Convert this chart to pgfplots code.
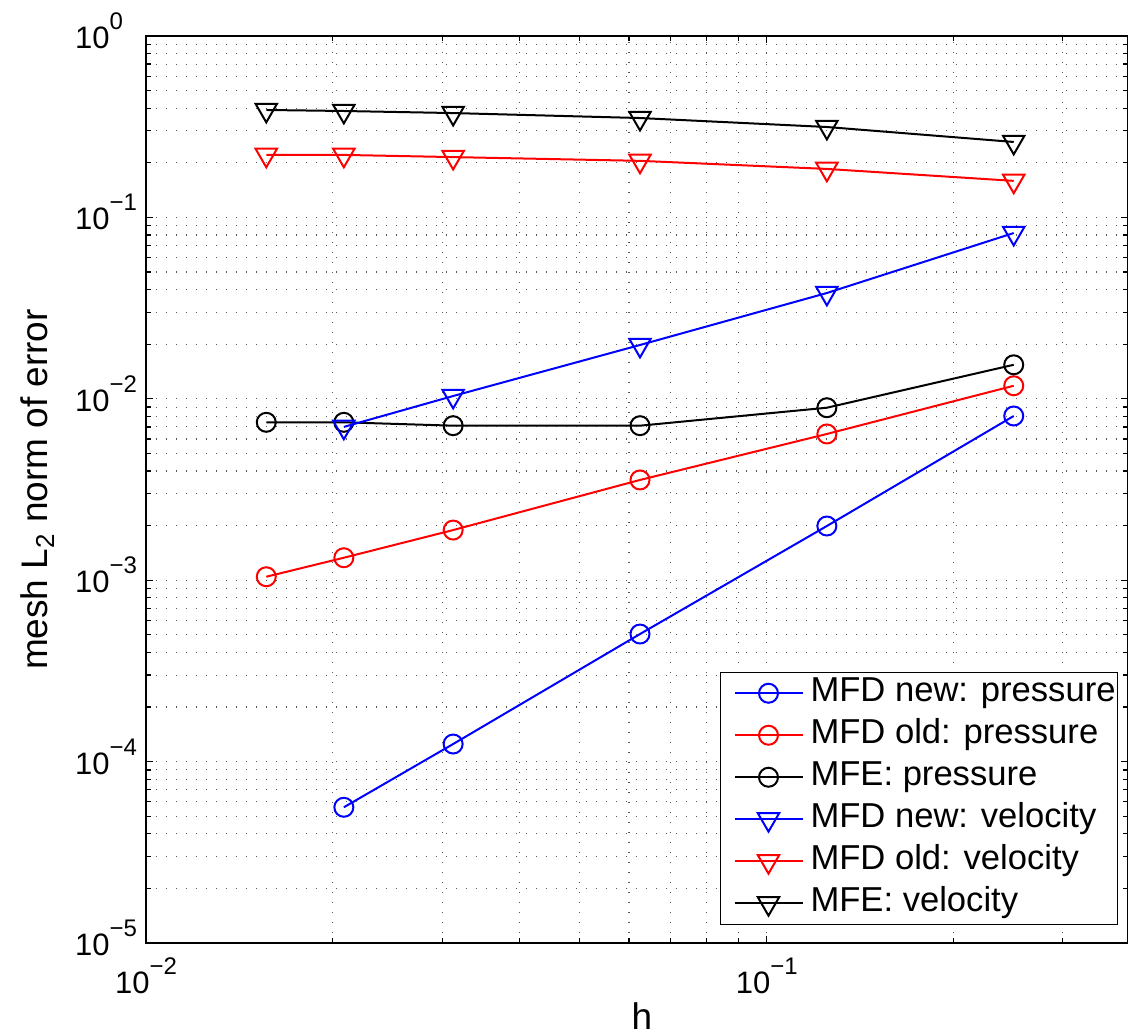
\documentclass[border=0pt]{standalone}
\usepackage{fontspec}
\setmainfont{Liberation Sans}
\usepackage{pgfplots}
\pgfplotsset{compat=1.18}
\newcommand\xl[1]{10\raisebox{9.5pt}{\fontsize{12}{12}\selectfont #1}}
\newcommand\yl[1]{10\rlap{\raisebox{9.5pt}{\fontsize{12}{12}\selectfont #1}}}
\begin{document}
\begin{tikzpicture}
\begin{axis}[
 xmode=log, ymode=log,
 scale only axis, width=491pt, height=453.5pt,
 xmin=0.01, xmax=0.382, ymin=1e-5, ymax=1,
 xtick={0.01,0.1}, xticklabels={\xl{−2},\xl{−1}},
 ytick={1e-5,1e-4,1e-3,1e-2,1e-1,1},
 yticklabels={\yl{−5},\yl{−4},\yl{−3},\yl{−2},\yl{−1},\yl{0}},
 minor xtick={0.02,0.03,0.04,0.05,0.06,0.07,0.08,0.09,0.2,0.3},
 minor ytick={2e-5,3e-5,4e-5,5e-5,6e-5,7e-5,8e-5,9e-5,
   2e-4,3e-4,4e-4,5e-4,6e-4,7e-4,8e-4,9e-4,
   2e-3,3e-3,4e-3,5e-3,6e-3,7e-3,8e-3,9e-3,
   2e-2,3e-2,4e-2,5e-2,6e-2,7e-2,8e-2,9e-2,
   0.2,0.3,0.4,0.5,0.6,0.7,0.8,0.9},
 grid=both,
 major grid style={line width=0.55pt, black!65, dash pattern=on 0.55pt off 4.45pt},
 minor grid style={line width=0.55pt, black!65, dash pattern=on 0.55pt off 4.45pt},
 tick style={black, line width=0.6pt},
 major tick length=3.5pt, minor tick length=2.5pt,
 axis line style={line width=0.8pt},
 tick label style={font=\fontsize{15.5}{18}\selectfont},
 xticklabel style={anchor=base, inner sep=0pt, yshift=-25pt},
 yticklabel style={anchor=base east, inner sep=0pt, xshift=-18pt, yshift=-6.3pt},
 label style={font=\fontsize{18.5}{22}\selectfont},
 xlabel={h}, ylabel={mesh L\textsubscript{2} norm of error},
 xlabel style={at={(axis description cs:0.505,-0.0959)}, anchor=base},
 ylabel style={at={(axis description cs:-0.0998,0.5)}, anchor=base},
 legend style={at={(0.99,0.02)}, anchor=south east, draw=black, line width=0.6pt, fill=white,
   inner xsep=1pt, inner ysep=2.25pt, font=\fontsize{17.3}{20}\selectfont, row sep=4.5pt,
   nodes={inner xsep=0pt, inner ysep=0pt, text height=12.5pt, text depth=4pt}},
 legend cell align=left,
 legend image code/.code={\path[draw=none] (0pt,-1pt) rectangle (44pt,1pt);
   \draw[mark repeat=2,mark phase=2,#1] plot coordinates {(6pt,0pt)(23pt,0pt)(40pt,0pt)};},
]
\addplot[blue, line width=1pt, mark=o, mark size=4.75pt, mark options={solid}]
 coordinates {(0.0208333,5.6e-5) (0.03125,1.25e-4) (0.0625,5.05e-4) (0.125,1.99e-3) (0.25,8.04e-3)};
\addlegendentry{MFD new: pressure}
\addplot[red, line width=1pt, mark=o, mark size=4.75pt, mark options={solid}]
 coordinates {(0.015625,1.045e-3) (0.0208333,1.33e-3) (0.03125,1.89e-3) (0.0625,3.57e-3) (0.125,6.40e-3) (0.25,1.18e-2)};
\addlegendentry{MFD old: pressure}
\addplot[black, line width=1pt, mark=o, mark size=4.75pt, mark options={solid}]
 coordinates {(0.015625,7.42e-3) (0.0208333,7.42e-3) (0.03125,7.11e-3) (0.0625,7.11e-3) (0.125,8.93e-3) (0.25,1.54e-2)};
\addlegendentry{MFE: pressure}
\addplot[blue, line width=1pt, mark=triangle, mark size=6.2pt, mark options={solid, rotate=180}]
 coordinates {(0.0208333,7.0e-3) (0.03125,1.036e-2) (0.0625,1.98e-2) (0.125,3.83e-2) (0.25,8.2e-2)};
\addlegendentry{MFD new: velocity}
\addplot[red, line width=1pt, mark=triangle, mark size=6.2pt, mark options={solid, rotate=180}]
 coordinates {(0.015625,0.221) (0.0208333,0.221) (0.03125,0.215) (0.0625,0.205) (0.125,0.185) (0.25,0.159)};
\addlegendentry{MFD old: velocity}
\addplot[black, line width=1pt, mark=triangle, mark size=6.2pt, mark options={solid, rotate=180}]
 coordinates {(0.015625,0.391) (0.0208333,0.386) (0.03125,0.376) (0.0625,0.353) (0.125,0.315) (0.25,0.2605)};
\addlegendentry{MFE: velocity}
\end{axis}
\pgfresetboundingbox
\path (-73pt,-46.5pt) rectangle (491pt,471.5pt);
\end{tikzpicture}
\end{document}
